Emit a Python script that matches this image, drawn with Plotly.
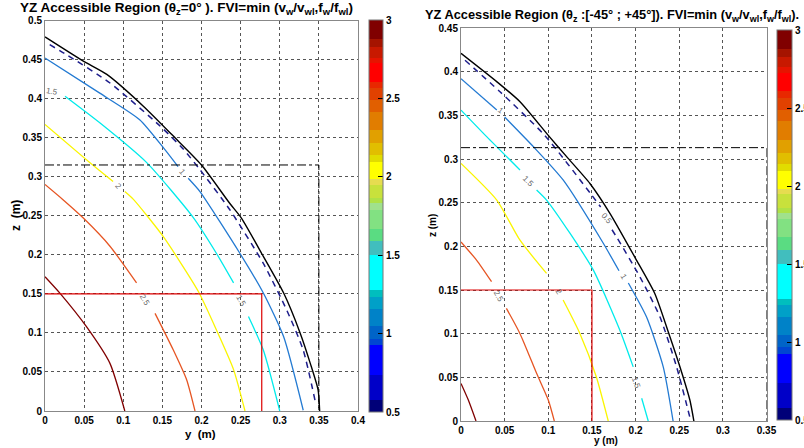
import plotly.graph_objects as go

# ---------------- data: left panel (theta_z = 0) ----------------
L_black_y = [0, 0.049, 0.079, 0.126, 0.164, 0.200, 0.236, 0.251, 0.279, 0.305, 0.326, 0.339, 0.349, 0.351]
L_black_z = [0.479, 0.448, 0.431, 0.390, 0.352, 0.315, 0.266, 0.247, 0.198, 0.151, 0.100, 0.061, 0.027, 0.0]
L_05_y = [0.006, 0.028, 0.083, 0.147, 0.177, 0.198, 0.236, 0.279, 0.309, 0.330, 0.345]
L_05_z = [0.469, 0.456, 0.420, 0.365, 0.335, 0.309, 0.258, 0.189, 0.129, 0.078, 0.014]
L_10_y = [0, 0.070, 0.121, 0.153, 0.170, None, 0.183, 0.198, 0.249, 0.279, 0.305, 0.330]
L_10_z = [0.452, 0.407, 0.373, 0.335, 0.313, None, 0.298, 0.281, 0.202, 0.151, 0.095, 0.001]
L_15_y = [0.0256, 0.070, 0.130, 0.190, 0.219, 0.241, None, 0.260, 0.279, 0.300]
L_15_z = [0.403, 0.369, 0.318, 0.247, 0.202, 0.164, None, 0.121, 0.078, 0.0]
L_20_y = [0, 0.0575, 0.087, None, 0.102, 0.113, 0.151, 0.196, 0.219, 0.241, 0.2556]
L_20_z = [0.367, 0.318, 0.294, None, 0.281, 0.271, 0.2235, 0.153, 0.104, 0.053, 0.0]
L_25_y = [0, 0.023, 0.049, 0.083, 0.117, None, 0.1406, 0.164, 0.181, 0.1917]
L_25_z = [0.290, 0.2705, 0.247, 0.211, 0.164, None, 0.125, 0.078, 0.040, 0.0]
L_30_y = [0, 0.019, 0.053, 0.083, 0.102]
L_30_z = [0.172, 0.151, 0.108, 0.061, 0.0]
L_dashbox_y = [0, 0.35, 0.35]
L_dashbox_z = [0.315, 0.315, 0]
L_redbox_y = [0, 0.277, 0.277]
L_redbox_z = [0.15, 0.15, 0]
L_labels = ["1.5", "2", "1", "2.5", "1.5"]
L_label_y = [0.009, 0.094, 0.176, 0.128, 0.250]
L_label_z = [0.409, 0.288, 0.306, 0.142, 0.141]
L_label_ang = [10, 50, 50, 60, 60]

# ---------------- data: right panel (theta_z in [-45, 45]) ----------------
R_black_y = [0, 0.0409, 0.0676, 0.100, 0.121, 0.1477, 0.1706, 0.201, 0.222, 0.2374, 0.2508, 0.2622, 0.2668]
R_black_z = [0.421, 0.3886, 0.3656, 0.327, 0.3027, 0.272, 0.2378, 0.1843, 0.146, 0.1023, 0.0622, 0.024, 0.0]
R_05_y = [0.0046, 0.0447, 0.096, 0.148, 0.160, None, 0.173, 0.178, 0.205, 0.228, 0.247, 0.262]
R_05_z = [0.413, 0.377, 0.327, 0.261, 0.245, None, 0.219, 0.211, 0.165, 0.119, 0.062, 0.005]
R_10_y = [0, 0.041, None, 0.050, 0.083, 0.117, 0.163, 0.181, None, 0.1917, 0.2126, 0.2317, 0.243]
R_10_z = [0.392, 0.356, None, 0.348, 0.314, 0.276, 0.2035, 0.172, None, 0.158, 0.119, 0.062, 0.0]
R_15_y = [0, 0.0294, 0.0676, None, 0.0866, 0.098, 0.1248, 0.1515, 0.182, 0.1973, None, 0.207, 0.2145]
R_15_z = [0.356, 0.3256, 0.2874, None, 0.2645, 0.253, 0.215, 0.173, 0.104, 0.062, None, 0.026, 0.0]
R_20_y = [0, 0.041, 0.0676, 0.098, None, 0.117, 0.1363, 0.155, 0.1687]
R_20_z = [0.295, 0.253, 0.207, 0.169, None, 0.1385, 0.100, 0.0507, 0.0]
R_25_y = [0, 0.018, 0.035, None, 0.052, 0.0676, 0.0866, 0.100, 0.1069]
R_25_z = [0.205, 0.184, 0.1595, None, 0.129, 0.100, 0.0546, 0.024, 0.0]
R_30_y = [0, 0.0084, 0.0172]
R_30_z = [0.043, 0.024, 0.0]
R_dashbox_y = [0, 0.35, 0.35]
R_dashbox_z = [0.313, 0.313, 0]
R_redbox_y = [0, 0.15, 0.15]
R_redbox_z = [0.15, 0.15, 0]
R_labels = ["1", "1.5", "0.5", "1", "1.5", "2", "2.5"]
R_label_y = [0.045, 0.077, 0.167, 0.186, 0.201, 0.1115, 0.0427]
R_label_z = [0.355, 0.274, 0.232, 0.165, 0.043, 0.148, 0.142]
R_label_ang = [35, 45, 50, 60, 70, 55, 60]

# ---------------- colour bar levels ----------------
cb_edges = [0.5, 0.574, 0.734, 0.926, 0.968, 1.047, 1.160, 1.234, 1.277, 1.500, 1.591, 1.670,
            1.787, 1.830, 1.862, 1.947, 1.983, 2.096, 2.138, 2.213, 2.298, 2.415, 2.489, 2.564,
            2.606, 2.723, 2.760, 2.830, 2.877, 3.0]
cb_colors = ["rgb(0,0,120)", "rgb(0,0,200)", "rgb(0,0,255)", "rgb(0,70,210)", "rgb(0,100,200)",
             "rgb(0,130,200)", "rgb(0,160,200)", "rgb(0,190,190)", "rgb(0,255,255)", "rgb(65,190,190)",
             "rgb(90,220,130)", "rgb(130,225,130)", "rgb(160,225,140)", "rgb(175,225,70)",
             "rgb(200,225,60)", "rgb(230,220,80)", "rgb(255,255,0)", "rgb(225,220,0)",
             "rgb(225,190,0)", "rgb(225,160,0)", "rgb(225,125,0)", "rgb(225,95,0)",
             "rgb(225,65,0)", "rgb(232,40,0)", "rgb(255,0,0)", "rgb(230,20,0)", "rgb(200,25,0)",
             "rgb(165,20,0)", "rgb(128,0,0)"]
cb_ticks = [0.5, 1, 1.5, 2, 2.5, 3]
cb_ticktext = ["0.5", "1", "1.5", "2", "2.5", "3"]

W, H = 804, 448


def px(v):
    return v / W


def py(v):
    return 1 - v / H


lo, hi = cb_edges[0], cb_edges[-1]
cscale = []
for i, c in enumerate(cb_colors):
    a = (cb_edges[i] - lo) / (hi - lo)
    b = (cb_edges[i + 1] - lo) / (hi - lo)
    cscale.append([a, c])
    cscale.append([b, c])
cscale[0][0] = 0.0
cscale[-1][0] = 1.0

C05 = "rgb(30,30,140)"
C10 = "rgb(35,122,210)"
C15 = "rgb(0,235,235)"
C20 = "rgb(250,245,0)"
C25 = "rgb(230,85,35)"
C30 = "rgb(128,0,0)"

fig = go.Figure()


def line(xa, ya, x, y, color, width=1.3, dash="solid", shape="spline"):
    fig.add_trace(go.Scatter(x=x, y=y, mode="lines", xaxis=xa, yaxis=ya,
                             line=dict(color=color, width=width, dash=dash, shape=shape,
                                       smoothing=0.6 if shape == "spline" else None),
                             hoverinfo="skip", showlegend=False))


for xa, ya, P in [("x", "y", "L"), ("x2", "y2", "R")]:
    g = globals()
    line(xa, ya, g[P + "_30_y"], g[P + "_30_z"], C30)
    line(xa, ya, g[P + "_25_y"], g[P + "_25_z"], C25)
    line(xa, ya, g[P + "_20_y"], g[P + "_20_z"], C20)
    line(xa, ya, g[P + "_15_y"], g[P + "_15_z"], C15)
    line(xa, ya, g[P + "_10_y"], g[P + "_10_z"], C10)
    line(xa, ya, g[P + "_05_y"], g[P + "_05_z"], C05, 1.5, "6px,5px")
    line(xa, ya, g[P + "_black_y"], g[P + "_black_z"], "black", 1.4)
    line(xa, ya, g[P + "_dashbox_y"], g[P + "_dashbox_z"], "black", 1.0, "dashdot", "linear")
    line(xa, ya, g[P + "_redbox_y"], g[P + "_redbox_z"], "rgb(220,0,0)", 1.2, "solid", "linear")

# colour bars (invisible markers)
tickf = dict(family="Liberation Sans", size=10, color="black", weight="bold")
for xa, ya, x0, y0, y1, th in [("x", "y", 369, 20, 412, 14), ("x2", "y2", 777, 30, 420, 15)]:
    fig.add_trace(go.Scatter(
        x=[0.2, 0.2], y=[0.2, 0.2], xaxis=xa, yaxis=ya, mode="markers", showlegend=False,
        hoverinfo="skip",
        marker=dict(size=1, opacity=0, color=[lo, hi], colorscale=cscale, cmin=lo, cmax=hi,
                    showscale=True,
                    colorbar=dict(x=px(x0), xanchor="left", y=py(y0), yanchor="top",
                                  len=(y1 - y0) / H, lenmode="fraction", thickness=th,
                                  thicknessmode="pixels", xpad=0, ypad=0, outlinewidth=1,
                                  outlinecolor="#777", tickvals=cb_ticks, ticktext=cb_ticktext,
                                  ticks="inside", ticklen=5, tickcolor="black", tickfont=tickf))))

axcommon = dict(showgrid=True, gridcolor="#555", griddash="dot", gridwidth=1,
                showline=True, linecolor="#888", linewidth=1, mirror=True, zeroline=False,
                ticks="", tickfont=tickf)

fig.update_layout(
    width=W, height=H, margin=dict(l=0, r=0, t=0, b=0, autoexpand=False),
    paper_bgcolor="white", plot_bgcolor="white",
    xaxis=dict(domain=[px(45), px(358)], range=[0, 0.4], anchor="y",
               tickvals=[0, 0.05, 0.1, 0.15, 0.2, 0.25, 0.3, 0.35, 0.4],
               ticktext=["0", "0.05", "0.1", "0.15", "0.2", "0.25", "0.3", "0.35", "0.4"], **axcommon),
    yaxis=dict(domain=[py(411), py(20.5)], range=[0, 0.5], anchor="x",
               tickvals=[0, 0.05, 0.1, 0.15, 0.2, 0.25, 0.3, 0.35, 0.4, 0.45, 0.5],
               ticktext=["0", "0.05", "0.1", "0.15", "0.2", "0.25", "0.3", "0.35", "0.4", "0.45", "0.5"],
               **axcommon),
    xaxis2=dict(domain=[px(461), px(766.5)], range=[0, 0.35], anchor="y2",
                tickvals=[0, 0.05, 0.1, 0.15, 0.2, 0.25, 0.3, 0.35],
                ticktext=["0", "0.05", "0.1", "0.15", "0.2", "0.25", "0.3", "0.35"], **axcommon),
    yaxis2=dict(domain=[py(421), py(28)], range=[0, 0.45], anchor="x2",
                tickvals=[0, 0.05, 0.1, 0.15, 0.2, 0.25, 0.3, 0.35, 0.4, 0.45],
                ticktext=["0", "0.05", "0.1", "0.15", "0.2", "0.25", "0.3", "0.35", "0.4", "0.45"],
                **axcommon),
)


def bold(size):
    return dict(family="Liberation Sans", size=size, color="black", weight="bold")


ann = [
    dict(text="YZ Accessible Region (θ<sub>z</sub>=0° ). FVI=min (v<sub>w</sub>/v<sub>wl</sub>,f<sub>w</sub>/f<sub>wl</sub>)",
         x=px(186), y=py(9), font=bold(13.5)),
    dict(text="YZ Accessible Region (θ<sub>z</sub> :[-45° ; +45°]). FVI=min (v<sub>w</sub>/v<sub>wl</sub>,f<sub>w</sub>/f<sub>wl</sub>).",
         x=px(612), y=py(15), font=bold(12.8)),
    dict(text="y  (m)", x=px(200), y=py(434), font=bold(11.5)),
    dict(text="z  (m)", x=px(16), y=py(216), textangle=-90, font=bold(12)),
    dict(text="y (m)", x=px(606), y=py(440), font=bold(10)),
    dict(text="z (m)", x=px(432), y=py(226), textangle=-90, font=bold(10)),
]
for a in ann:
    a.update(xref="paper", yref="paper", showarrow=False, xanchor="center", yanchor="middle")
    fig.add_annotation(**a)

labf = dict(family="Liberation Sans", size=8, color="#666")
for xa, ya, P in [("x", "y", "L"), ("x2", "y2", "R")]:
    g = globals()
    for t, yy, zz, ang in zip(g[P + "_labels"], g[P + "_label_y"], g[P + "_label_z"], g[P + "_label_ang"]):
        fig.add_annotation(text=t, x=yy, y=zz, xref=xa, yref=ya, showarrow=False,
                           textangle=ang, font=labf)

fig.write_html("out.html", config={"displayModeBar": False},
               post_script="document.body.style.margin='0px';")
